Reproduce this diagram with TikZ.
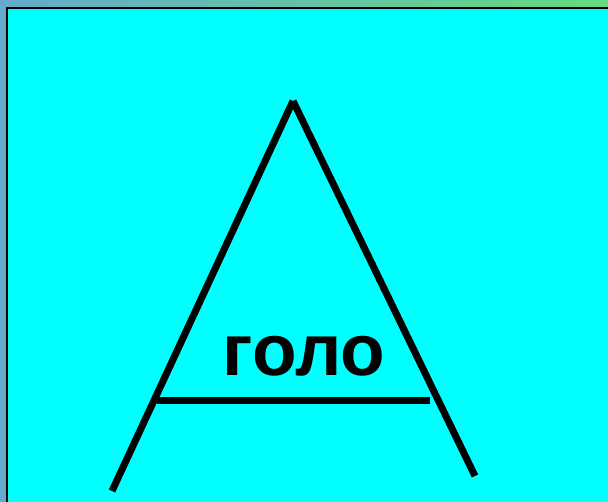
\documentclass[tikz,border=0pt]{standalone}
\usepackage{fontspec}
\setmainfont{Liberation Sans}
\usepackage{tikz}
\usetikzlibrary{positioning}
\definecolor{framebg}{RGB}{0, 255, 255}
\definecolor{stripleft}{RGB}{100, 170, 205}
\definecolor{stripright}{RGB}{100, 218, 128}

\begin{document}
\begin{tikzpicture}[x=1pt, y=-1pt,
    leg/.style={line width=7pt, black},
    word/.style={font=\fontsize{73}{76}\selectfont\bfseries, inner sep=0pt}
]
    \useasboundingbox (0,0) rectangle (608,502);
    % background strip and cyan panel
    \shade[left color=stripleft, right color=stripright] (0,0) rectangle (608,502);
    \fill[framebg] (6,7) rectangle (608,502);
    \draw[line width=2pt, black] (7,502) -- (7,8) -- (608,8);

    % the letter
    \coordinate (apex) at (293,101);
    \coordinate (footl) at (112,491);
    \coordinate (footr) at (475,476);
    \coordinate (barl) at (157,401);
    \coordinate (barr) at (430,401);
    \draw[leg] (footl) -- (apex);
    \draw[leg] (apex) -- (footr);
    \draw[leg] (barl) -- (barr);
    \node[word] (txt) at (304,356) {голо};
\end{tikzpicture}
\end{document}
